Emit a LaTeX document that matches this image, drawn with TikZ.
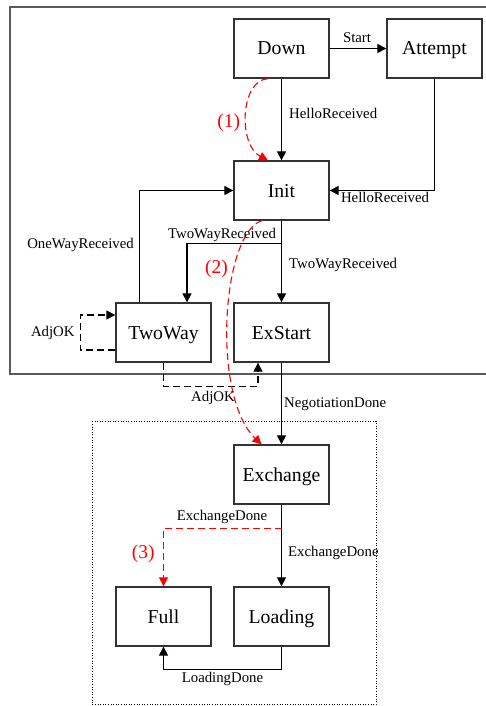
\documentclass[tikz,border=0pt]{standalone}
\usepackage{fontspec}
\setmainfont{Liberation Serif}
\usetikzlibrary{arrows.meta,calc}

\definecolor{boxline}{HTML}{333333}
\definecolor{frameline}{HTML}{5A5A5A}

\begin{document}
\begin{tikzpicture}[x=1pt,y=-1pt,
  state/.style={draw=boxline, line width=1.3pt, minimum width=95pt, minimum height=59pt,
    inner sep=0pt, text height=13pt, text depth=0pt, font=\fontsize{19.7}{22}\selectfont},
  lbl/.style={inner sep=0pt, text height=9.8pt, text depth=0pt, font=\fontsize{14.8}{17}\selectfont},
  tag/.style={inner sep=0pt, anchor=base, text=red, font=\fontsize{19.5}{22}\selectfont},
  arr/.style={line width=1.1pt, -{Triangle[length=9pt,width=9pt]}},
  darr/.style={arr, dash pattern=on 7pt off 4pt},
  rarr/.style={arr, draw=red, dash pattern=on 7pt off 4pt},
  framebox/.style={draw=frameline, line width=1.8pt},
  groupbox/.style={draw=black, line width=0.9pt, dash pattern=on 1pt off 1.6pt},
]
\useasboundingbox (0,0) rectangle (485,706);

% enclosing frames
\draw[framebox] (10,7) rectangle (495,374);
\draw[groupbox] (92.3,421.3) rectangle (376,704.7);

% states
\node[state] (down)     at (281.5,48.5)  {Down};
\node[state] (attempt)  at (434.5,48.5)  {Attempt};
\node[state] (init)     at (281.5,190.5) {Init};
\node[state] (twoway)   at (163.5,332.5) {TwoWay};
\node[state] (exstart)  at (281.5,332.5) {ExStart};
\node[state] (exchange) at (281.5,474.5) {Exchange};
\node[state] (full)     at (163.5,616.5) {Full};
\node[state] (loading)  at (281.5,616.5) {Loading};

% transitions
\draw[arr] (down.east) -- (attempt.west);
\draw[arr] (down.south) -- (init.north);
\draw[arr] (attempt.south) |- (init.east);
\draw[arr] ($(twoway.north)+(-24,0)$) |- (init.west);
\draw[arr] (init.south) -- ++(0,23) -| ($(twoway.north)+(23.5,0)$);
\draw[arr] (init.south) -- (exstart.north);
\draw[darr] ($(twoway.west)+(0,17.5)$) -- ++(-35,0) |- ($(twoway.west)+(0,-17.5)$);
\draw[darr] (twoway.south) -- ++(0,23.5) -| ($(exstart.south)+(-23.5,0)$);
\draw[arr] (exstart.south) -- (exchange.north);
\draw[arr] (exchange.south) -- (loading.north);
\draw[rarr] ($(exchange.south)+(0,23.5)$) -| (full.north);
\draw[arr] (loading.south) -- ++(0,23) -| (full.south);

% shortcut paths
\draw[rarr] ($(down.south)+(-13.5,0)$) .. controls (240,80) and (238,145) .. ($(init.north)+(-13.5,0)$);
\draw[rarr] ($(init.south)+(-19.5,0)$) .. controls (222,232) and (211,396) .. ($(exchange.north)+(-20,0)$);

% event labels
\node[lbl] (l1)  at (357,38)    {Start};
\node[lbl, anchor=west] (l2) at (289,113.3) {HelloReceived};
\node[lbl] (l3)  at (385,198)   {HelloReceived};
\node[lbl] (l4)  at (80.5,243.3) {OneWayReceived};
\node[lbl] (l5)  at (222,234)   {TwoWayReceived};
\node[lbl, anchor=west] (l6) at (289,264) {TwoWayReceived};
\node[lbl] (l7)  at (52.8,331.7) {AdjOK};
\node[lbl] (l8)  at (213,397)   {AdjOK};
\node[lbl, anchor=west] (l9) at (284,403) {NegotiationDone};
\node[lbl] (l10) at (222,515.7) {ExchangeDone};
\node[lbl, anchor=west] (l11) at (288,551.7) {ExchangeDone};
\node[lbl] (l12) at (222.5,678) {LoadingDone};

% step numbers
\node[tag] (t1) at (228.7,127.5) {(1)};
\node[tag] (t2) at (216.5,273.3) {(2)};
\node[tag] (t3) at (143.3,558)   {(3)};
\end{tikzpicture}
\end{document}
